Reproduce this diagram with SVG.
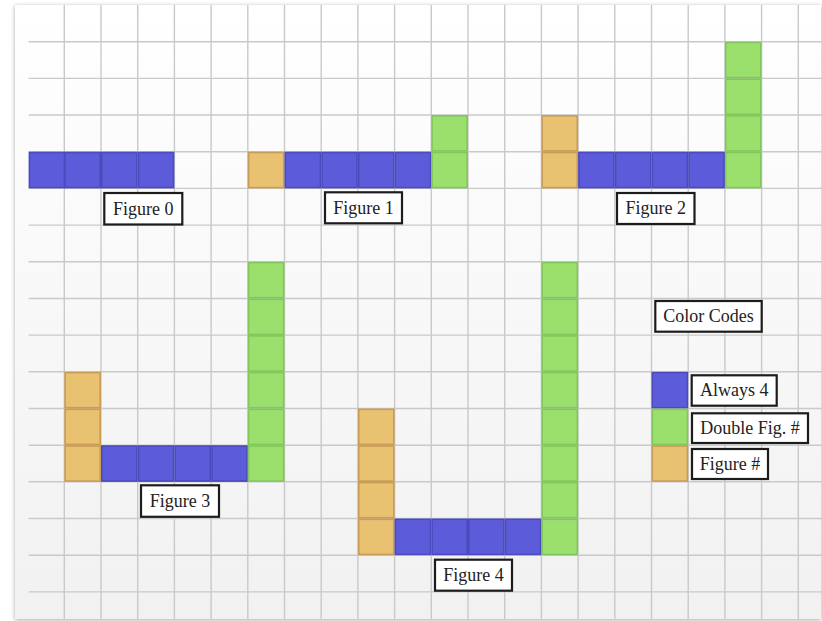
<svg xmlns="http://www.w3.org/2000/svg" width="822" height="621" viewBox="0 0 822 621">
<defs>
<linearGradient id="bg" x1="0" y1="0" x2="0" y2="1">
<stop offset="0" stop-color="#ffffff"/>
<stop offset="1" stop-color="#f1f1f1"/>
</linearGradient>
<filter id="sh" x="-5%" y="-5%" width="110%" height="110%">
<feDropShadow dx="0" dy="1" stdDeviation="2" flood-color="#000" flood-opacity="0.35"/>
</filter>
</defs>
<style>
.grid{stroke:#c9c9c9;stroke-width:1.4;fill:none}
.b{fill:#5c5cdb;stroke:#4b4bbd;stroke-width:1.6}
.g{fill:#9bdf6d;stroke:#82c75c;stroke-width:1.6}
.o{fill:#e8c171;stroke:#c99c57;stroke-width:1.6}
.lbl{fill:#ffffff;stroke:#1c1c1c;stroke-width:2.2}
.t{font-family:"Liberation Serif","Times New Roman",serif;font-size:18px;fill:#222;text-anchor:middle}
</style>
<rect x="15" y="5" width="806" height="614" fill="url(#bg)" filter="url(#sh)"/>
<path class="grid" d="M28.7 41.7H822M28.7 78.4H822M28.7 115H822M28.7 151.7H822M28.7 188.4H822M28.7 225.1H822M28.7 261.8H822M28.7 298.5H822M28.7 335.1H822M28.7 371.8H822M28.7 408.5H822M28.7 445.2H822M28.7 481.8H822M28.7 518.5H822M28.7 555.2H822M28.7 591.9H822
M64.3 5V619M101 5V619M137.7 5V619M174.4 5V619M211.1 5V619M247.8 5V619M284.5 5V619M321.2 5V619M357.9 5V619M394.6 5V619M431.3 5V619M468 5V619M504.7 5V619M541.4 5V619M578.1 5V619M614.8 5V619M651.5 5V619M688.2 5V619M724.9 5V619M761.6 5V619M798.3 5V619"/>

<g id="figure0">
<rect class="b" x="29.4" y="152.5" width="35" height="35.1"/>
<rect class="b" x="65.1" y="152.5" width="35.1" height="35.1"/>
<rect class="b" x="101.8" y="152.5" width="35.1" height="35.1"/>
<rect class="b" x="138.5" y="152.5" width="35.1" height="35.1"/>
<rect class="lbl" x="104.3" y="193" width="78" height="31.5"/>
<text class="t" x="143.3" y="214.5">Figure 0</text>
</g>

<g id="figure1">
<rect class="o" x="248.6" y="152.5" width="35.1" height="35.1"/>
<rect class="b" x="285.3" y="152.5" width="35.1" height="35.1"/>
<rect class="b" x="322" y="152.5" width="35.1" height="35.1"/>
<rect class="b" x="358.7" y="152.5" width="35.1" height="35.1"/>
<rect class="b" x="395.4" y="152.5" width="35.1" height="35.1"/>
<rect class="g" x="432.1" y="115.8" width="35.1" height="35.1"/>
<rect class="g" x="432.1" y="152.5" width="35.1" height="35.1"/>
<rect class="lbl" x="325" y="192.3" width="77" height="31"/>
<text class="t" x="363.5" y="213.5">Figure 1</text>
</g>

<g id="figure2">
<rect class="o" x="542.2" y="115.8" width="35.1" height="35.1"/>
<rect class="o" x="542.2" y="152.5" width="35.1" height="35.1"/>
<rect class="b" x="578.9" y="152.5" width="35.1" height="35.1"/>
<rect class="b" x="615.6" y="152.5" width="35.1" height="35.1"/>
<rect class="b" x="652.3" y="152.5" width="35.1" height="35.1"/>
<rect class="b" x="689" y="152.5" width="35.1" height="35.1"/>
<rect class="g" x="725.7" y="42.5" width="35.1" height="35.1"/>
<rect class="g" x="725.7" y="79.2" width="35.1" height="35.1"/>
<rect class="g" x="725.7" y="115.8" width="35.1" height="35.1"/>
<rect class="g" x="725.7" y="152.5" width="35.1" height="35.1"/>
<rect class="lbl" x="617" y="193" width="77.5" height="31"/>
<text class="t" x="655.7" y="213.8">Figure 2</text>
</g>

<g id="figure3">
<rect class="o" x="65.1" y="372.6" width="35.1" height="35.1"/>
<rect class="o" x="65.1" y="409.3" width="35.1" height="35.1"/>
<rect class="o" x="65.1" y="446" width="35.1" height="35.1"/>
<rect class="b" x="101.8" y="446" width="35.1" height="35.1"/>
<rect class="b" x="138.5" y="446" width="35.1" height="35.1"/>
<rect class="b" x="175.2" y="446" width="35.1" height="35.1"/>
<rect class="b" x="211.9" y="446" width="35.1" height="35.1"/>
<rect class="g" x="248.6" y="262.6" width="35.1" height="35.1"/>
<rect class="g" x="248.6" y="299.3" width="35.1" height="35.1"/>
<rect class="g" x="248.6" y="335.9" width="35.1" height="35.1"/>
<rect class="g" x="248.6" y="372.6" width="35.1" height="35.1"/>
<rect class="g" x="248.6" y="409.3" width="35.1" height="35.1"/>
<rect class="g" x="248.6" y="446" width="35.1" height="35.1"/>
<rect class="lbl" x="141" y="485.3" width="78" height="31.5"/>
<text class="t" x="180" y="506.5">Figure 3</text>
</g>

<g id="figure4">
<rect class="o" x="358.7" y="409.3" width="35.1" height="35.1"/>
<rect class="o" x="358.7" y="446" width="35.1" height="35.1"/>
<rect class="o" x="358.7" y="482.6" width="35.1" height="35.1"/>
<rect class="o" x="358.7" y="519.3" width="35.1" height="35.1"/>
<rect class="b" x="395.4" y="519.3" width="35.1" height="35.1"/>
<rect class="b" x="432.1" y="519.3" width="35.1" height="35.1"/>
<rect class="b" x="468.8" y="519.3" width="35.1" height="35.1"/>
<rect class="b" x="505.5" y="519.3" width="35.1" height="35.1"/>
<rect class="g" x="542.2" y="262.6" width="35.1" height="35.1"/>
<rect class="g" x="542.2" y="299.3" width="35.1" height="35.1"/>
<rect class="g" x="542.2" y="335.9" width="35.1" height="35.1"/>
<rect class="g" x="542.2" y="372.6" width="35.1" height="35.1"/>
<rect class="g" x="542.2" y="409.3" width="35.1" height="35.1"/>
<rect class="g" x="542.2" y="446" width="35.1" height="35.1"/>
<rect class="g" x="542.2" y="482.6" width="35.1" height="35.1"/>
<rect class="g" x="542.2" y="519.3" width="35.1" height="35.1"/>
<rect class="lbl" x="435" y="559.7" width="77" height="31"/>
<text class="t" x="473.5" y="581">Figure 4</text>
</g>

<g id="legend">
<rect class="lbl" x="655.3" y="301" width="106.4" height="30.7"/>
<text class="t" x="708.5" y="322">Color Codes</text>
<g id="legend-always4">
<rect class="b" x="652.3" y="372.6" width="35.1" height="35.1"/>
<rect class="lbl" x="691.7" y="375.3" width="85" height="30.4"/>
<text class="t" x="734.2" y="396.3">Always 4</text>
</g>
<g id="legend-double">
<rect class="g" x="652.3" y="409.3" width="35.1" height="35.1"/>
<rect class="lbl" x="692" y="413.3" width="116" height="29.7"/>
<text class="t" x="750" y="434">Double Fig. #</text>
</g>
<g id="legend-figure">
<rect class="o" x="652.3" y="446" width="35.1" height="35.1"/>
<rect class="lbl" x="692" y="449" width="76" height="30"/>
<text class="t" x="730" y="470">Figure #</text>
</g>
</g>
</svg>
